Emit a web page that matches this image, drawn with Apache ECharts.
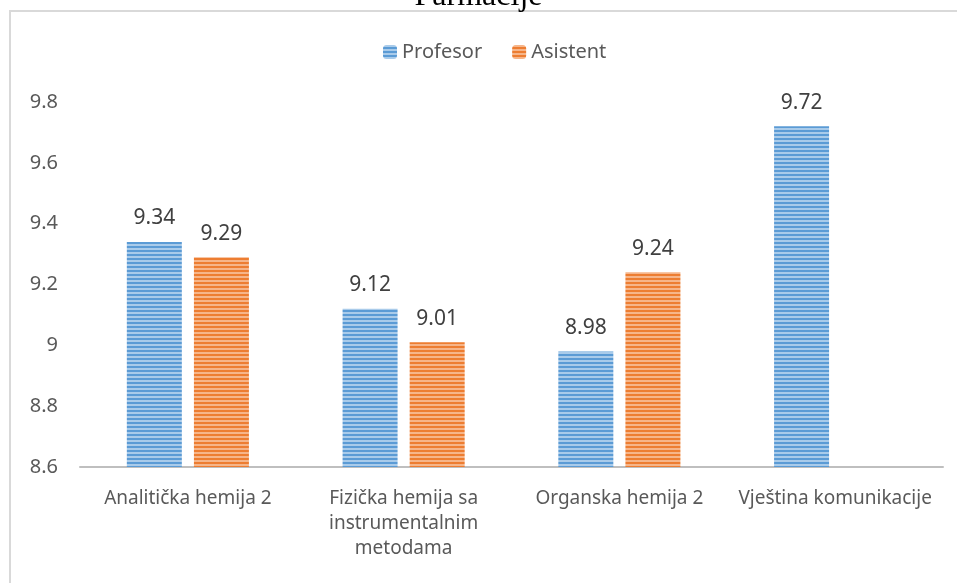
<!DOCTYPE html>
<html>
<head>
<meta charset="utf-8">
<script src="https://cdn.jsdelivr.net/npm/echarts@6/dist/echarts.min.js"></script>
<style>
  html, body { margin: 0; padding: 0; background: #fff; }
  #chart { width: 957px; height: 583px; }
</style>
</head>
<body>
<div id="chart"></div>
<script>
var categories = [
  "Analitička hemija 2",
  "Fizička hemija sa\ninstrumentalnim\nmetodama",
  "Organska hemija 2",
  "Vještina komunikacije"
];
var profesor = [9.34, 9.12, 8.98, 9.72];
var asistent = [9.29, 9.01, 9.24, null];
var yTicks = [8.6, 8.8, 9, 9.2, 9.4, 9.6, 9.8];

// striped fill like the original horizontal-line pattern
function stripes(base, light) {
  var c = document.createElement("canvas");
  c.width = 4;
  c.height = 4;
  var ctx = c.getContext("2d");
  ctx.fillStyle = base;
  ctx.fillRect(0, 0, 4, 4);
  ctx.fillStyle = light;
  ctx.fillRect(0, 0, 4, 2);
  return { image: c, repeat: "repeat" };
}

var chart = echarts.init(document.getElementById("chart"));
chart.setOption({
  animation: false,
  title: {
    text: "Farmacije",
    left: "center",
    top: -24,
    textStyle: {
      fontFamily: "Liberation Serif",
      fontWeight: "normal",
      fontSize: 32,
      color: "#000"
    }
  },
  graphic: [
    {
      type: "rect",
      shape: { x: 10, y: 11, width: 960, height: 600 },
      style: { fill: "none", stroke: "#d9d9d9", lineWidth: 2 }
    }
  ],
  legend: {
    top: 37,
    left: 378,
    itemWidth: 14,
    itemHeight: 14,
    itemGap: 30,
    textStyle: { fontFamily: "Noto Sans", fontSize: 20, color: "#595959" },
    data: ["Profesor", "Asistent"]
  },
  grid: { left: 80, right: 14, top: 102, bottom: 116 },
  xAxis: {
    type: "category",
    data: categories,
    axisLine: { lineStyle: { color: "#bfbfbf", width: 2 } },
    axisTick: { show: false },
    axisLabel: {
      interval: 0,
      margin: 19,
      lineHeight: 25,
      fontFamily: "Noto Sans",
      fontSize: 19,
      color: "#595959"
    }
  },
  yAxis: {
    type: "value",
    min: yTicks[0],
    max: yTicks[yTicks.length - 1],
    interval: 0.2,
    splitLine: { show: false },
    axisLine: { show: false },
    axisTick: { show: false },
    axisLabel: {
      margin: 22,
      fontFamily: "Noto Sans",
      fontSize: 20,
      color: "#595959"
    }
  },
  series: [
    {
      name: "Profesor",
      type: "bar",
      data: profesor,
      barWidth: 55,
      barGap: "22%",
      itemStyle: { color: stripes("#5b9bd5", "#a9cbea") },
      label: {
        show: true,
        position: "top",
        distance: 13,
        fontFamily: "Noto Sans",
        fontSize: 21,
        color: "#404040"
      }
    },
    {
      name: "Asistent",
      type: "bar",
      data: asistent,
      barWidth: 55,
      itemStyle: { color: stripes("#ed7d31", "#f6b589") },
      label: {
        show: true,
        position: "top",
        distance: 13,
        fontFamily: "Noto Sans",
        fontSize: 21,
        color: "#404040"
      }
    }
  ]
});
</script>
</body>
</html>
